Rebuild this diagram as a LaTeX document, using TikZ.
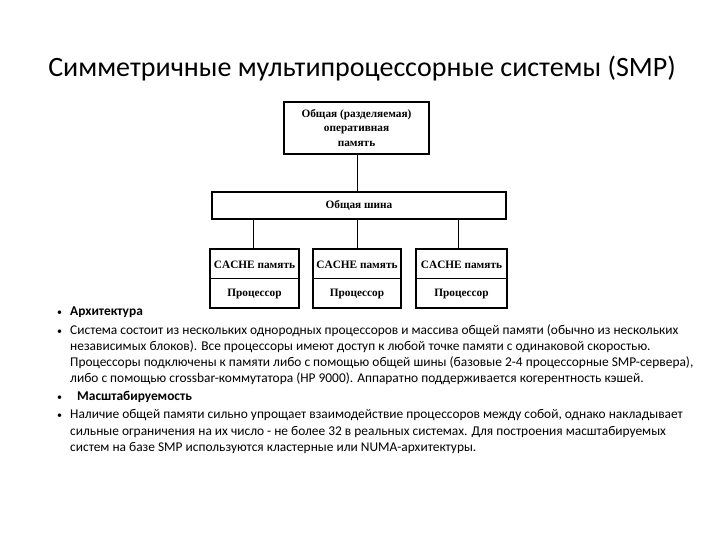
\documentclass[tikz,border=0pt]{standalone}
\usepackage{fontspec}
\setmainfont{Carlito}
\newfontfamily\diagfont{Liberation Serif}
\begin{document}
\begin{tikzpicture}[x=1pt,y=-1pt,
  box/.style={draw,line width=1.3pt},
  thin/.style={line width=0.8pt},
  dtext/.style={font=\diagfont\bfseries\fontsize{11.3}{14.5}\selectfont,align=center,inner sep=0pt},
  btext/.style={font=\fontsize{13.4}{16}\selectfont,anchor=base west,inner sep=0pt},
  hbtext/.style={font=\bfseries\fontsize{13.4}{16}\selectfont,anchor=base west,inner sep=0pt},
  bul/.style={font=\fontsize{10}{10}\selectfont,anchor=base west,inner sep=0pt}]
\useasboundingbox (0,0) rectangle (720,540);
\node[font=\fontsize{28}{32}\selectfont,anchor=base,inner sep=0pt] (title) at (362,77) {Симметричные мультипроцессорные системы (SMP)};
% diagram
\draw[box] (284,102) rectangle (429,154);
\node[dtext] (mem) at (356.5,128) {Общая (разделяемая)\\оперативная\\память};
\draw[box] (212,192) rectangle (506,219);
\node[dtext] (bus) at (359,205.5) {Общая шина};
\coordinate (memb) at (357,154);
\coordinate (bust) at (357,192);
\draw[thin] (memb) -- (bust);
\foreach \i/\xa/\xb/\xc in {1/210/299/253, 2/313/401/357, 3/416/507/458}{
  \draw[box] (\xa,249) rectangle (\xb,308);
  \draw[thin] (\xa,278) -- (\xb,278);
  \node[dtext] (c\i) at ({(\xa+\xb)/2},264.5) {CACHE память};
  \node[dtext] (p\i) at ({(\xa+\xb)/2},294) {Процессор};
  \draw[thin] (\xc,219) -- (\xc,249);
}
% text
\node[bul] (b1) at (57,315) {•};
\node[hbtext] (t1) at (70,315) {Архитектура};
\node[bul] (b2) at (57,334) {•};
\node[btext] (t2a) at (70,334) {Система состоит из нескольких однородных процессоров и массива общей памяти (обычно из нескольких};
\node[btext] (t2b) at (70,350) {независимых блоков). Все процессоры имеют доступ к любой точке памяти с одинаковой скоростью.};
\node[btext] (t2c) at (70,366) {Процессоры подключены к памяти либо с помощью общей шины (базовые 2-4 процессорные SMP-сервера),};
\node[btext] (t2d) at (70,382) {либо с помощью crossbar-коммутатора (HP 9000). Аппаратно поддерживается когерентность кэшей.};
\node[bul] (b3) at (57,400) {•};
\node[hbtext] (t3) at (77,400) {Масштабируемость};
\node[bul] (b4) at (57,418) {•};
\node[btext] (t4a) at (70,418) {Наличие общей памяти сильно упрощает взаимодействие процессоров между собой, однако накладывает};
\node[btext] (t4b) at (70,435) {сильные ограничения на их число - не более 32 в реальных системах. Для построения масштабируемых};
\node[btext] (t4c) at (70,451) {систем на базе SMP используются кластерные или NUMA-архитектуры.};
\end{tikzpicture}
\end{document}
